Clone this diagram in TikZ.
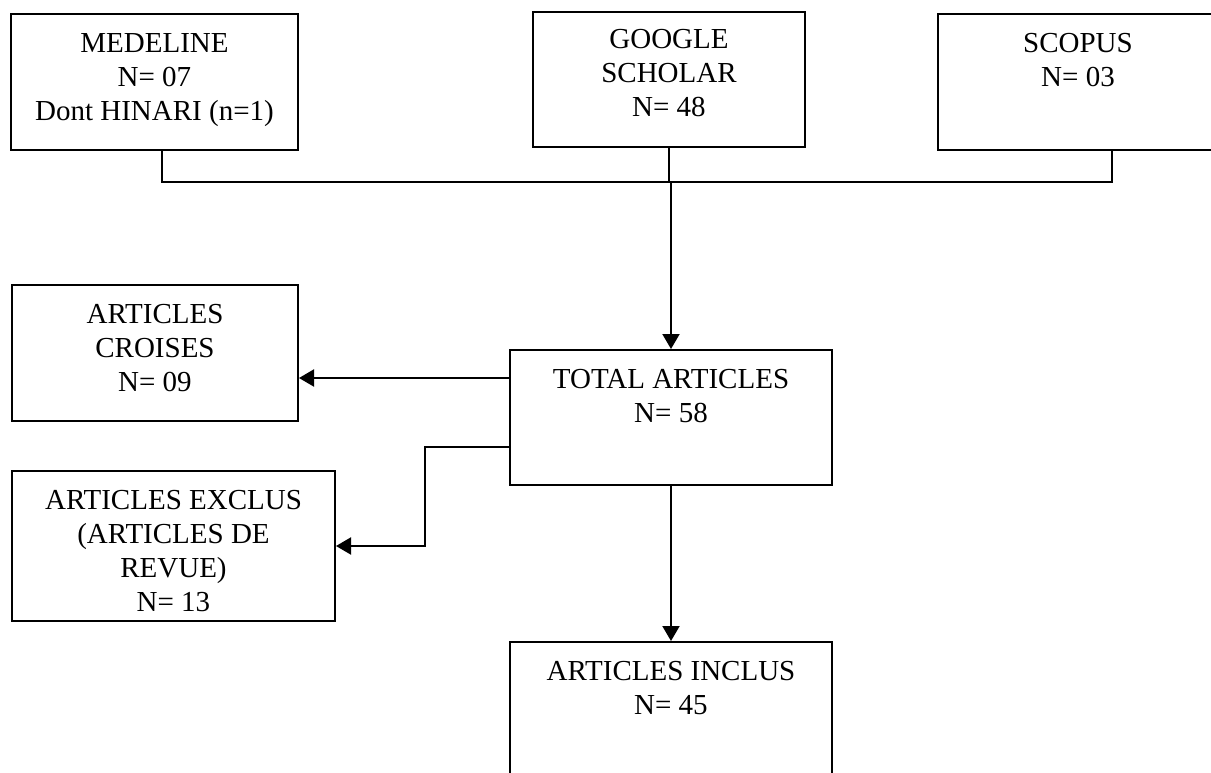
\documentclass[tikz,border=0pt]{standalone}
\usepackage{fontspec}
\setmainfont{Liberation Serif}
\usetikzlibrary{positioning,arrows.meta}
\tikzset{
  box/.style={draw,line width=1pt,inner sep=0pt},
  lbl/.style={inner sep=0pt,align=center,font=\fontsize{14.5}{17}\selectfont},
  wire/.style={line width=1pt},
  arr/.style={line width=1pt,-{Triangle[length=7.5pt,width=8.5pt]}}
}
\begin{document}
\begin{tikzpicture}[x=0.5pt,y=-0.5pt]
  \useasboundingbox (0,0) rectangle (1211,772);
  \node[box,minimum width=143.5pt,minimum height=68pt] (MED) at (154.5,82) {};
  \node[box,minimum width=136pt,minimum height=67.5pt] (GOO) at (669,79.5) {};
  \node[box,minimum width=140pt,minimum height=68pt] (SCO) at (1078,82) {};
  \node[box,minimum width=143pt,minimum height=68pt] (CRO) at (155,353) {};
  \node[box,minimum width=161pt,minimum height=67.5pt] (TOT) at (671,417.5) {};
  \node[box,minimum width=161.5pt,minimum height=75pt] (EXC) at (173.5,546) {};
  \node[box,minimum width=161pt,minimum height=80pt] (INC) at (671,722) {};
  \node[lbl,below=10pt of MED.north] (MEDt) {MEDELINE\\N= 07\\Dont HINARI (n=1)};
  \node[lbl,below=9pt of GOO.north] (GOOt) {GOOGLE\\SCHOLAR\\N= 48};
  \node[lbl,below=10pt of SCO.north] (SCOt) {SCOPUS\\N= 03};
  \node[lbl,below=10pt of CRO.north] (CROt) {ARTICLES\\CROISES\\N= 09};
  \node[lbl,below=10pt of TOT.north] (TOTt) {TOTAL ARTICLES\\N= 58};
  \node[lbl,below=10pt of EXC.north] (EXCt) {ARTICLES EXCLUS\\(ARTICLES DE\\REVUE)\\N= 13};
  \node[lbl,below=10pt of INC.north] (INCt) {ARTICLES INCLUS\\N= 45};
  \coordinate (bus) at (669,182);
  \coordinate (a1) at ([yshift=19.75pt]TOT.west);
  \coordinate (a2) at ([yshift=-14.75pt]TOT.west);
  \draw[wire] ([xshift=3.75pt]MED.south) |- (bus) -| ([xshift=17pt]SCO.south);
  \draw[wire] (GOO.south) -- (GOO.south |- bus);
  \draw[arr] (TOT.north |- bus) -- (TOT.north);
  \draw[arr] (a1) -- (a1 -| CRO.east);
  \draw[arr] (a2) -- ++(-84,0) |- (EXC.east);
  \draw[arr] (TOT.south) -- (INC.north);
\end{tikzpicture}
\end{document}
